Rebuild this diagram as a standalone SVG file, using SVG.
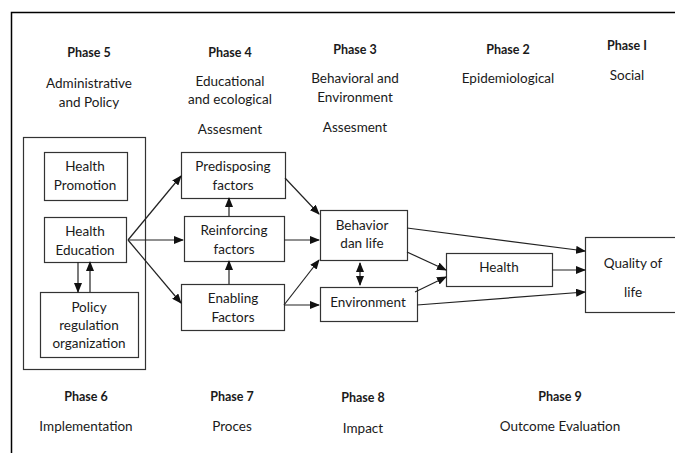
<svg xmlns="http://www.w3.org/2000/svg" width="675" height="453" viewBox="0 0 675 453">
<style>
text{font-family:Lato,"Liberation Sans",sans-serif;font-size:13.5px;fill:#1a1a1a;text-anchor:middle}
.b{font-weight:bold;font-size:12.5px}
.box{fill:#fff;stroke:#333;stroke-width:1.2}
.c{stroke:#222;stroke-width:1.2;fill:none;marker-end:url(#ah)}
</style>
<defs>
<marker id="ah" markerUnits="userSpaceOnUse" markerWidth="10" markerHeight="8" refX="9" refY="4" orient="auto"><path d="M0,0 L10,4 L0,8 Z" fill="#111"/></marker>
<marker id="as" markerUnits="userSpaceOnUse" markerWidth="10" markerHeight="8" refX="1" refY="4" orient="auto"><path d="M10,0 L0,4 L10,8 Z" fill="#111"/></marker>
</defs>
<rect width="675" height="453" fill="#fff"/>
<path d="M11.5,453 V12.5 H675" fill="none" stroke="#000" stroke-width="1.5"/>
<g id="headers">
<text class="b" x="89" y="57">Phase 5</text>
<text x="89" y="88">Administrative</text>
<text x="89" y="107">and Policy</text>
<text class="b" x="230" y="57">Phase 4</text>
<text x="230" y="86">Educational</text>
<text x="230" y="104">and ecological</text>
<text x="230" y="134">Assesment</text>
<text class="b" x="355" y="54">Phase 3</text>
<text x="355" y="83">Behavioral and</text>
<text x="355" y="102">Environment</text>
<text x="355" y="132">Assesment</text>
<text class="b" x="508" y="54">Phase 2</text>
<text x="508" y="83">Epidemiological</text>
<text class="b" x="627" y="50">Phase I</text>
<text x="627" y="80">Social</text>
<text class="b" x="86" y="401">Phase 6</text>
<text x="86" y="431">Implementation</text>
<text class="b" x="232" y="401">Phase 7</text>
<text x="232" y="431">Proces</text>
<text class="b" x="363" y="402">Phase 8</text>
<text x="363" y="433">Impact</text>
<text class="b" x="560" y="401">Phase 9</text>
<text x="560" y="431">Outcome Evaluation</text>
</g>
<g id="group5"><rect class="box" x="23.5" y="137.5" width="122" height="232"/></g>
<g id="healthPromotion"><rect class="box" x="44.5" y="152.5" width="83" height="48"/>
<text x="85" y="171">Health</text><text x="85" y="190">Promotion</text></g>
<g id="healthEducation"><rect class="box" x="44.5" y="217.5" width="82" height="45"/>
<text x="85" y="236">Health</text><text x="85" y="255">Education</text></g>
<g id="policy"><rect class="box" x="40.5" y="292.5" width="98" height="65"/>
<text x="89" y="312">Policy</text><text x="89" y="330">regulation</text><text x="89" y="348">organization</text></g>
<g id="predisposing"><rect class="box" x="181.5" y="152.5" width="104" height="46"/>
<text x="233" y="171">Predisposing</text><text x="233" y="190">factors</text></g>
<g id="reinforcing"><rect class="box" x="184.5" y="216.5" width="100" height="45"/>
<text x="234" y="235">Reinforcing</text><text x="234" y="254">factors</text></g>
<g id="enabling"><rect class="box" x="181.5" y="284.5" width="103" height="46"/>
<text x="233" y="303">Enabling</text><text x="233" y="322">Factors</text></g>
<g id="behavior"><rect class="box" x="320.5" y="210.5" width="87" height="50"/>
<text x="362" y="230">Behavior</text><text x="362" y="248">dan life</text></g>
<g id="environment"><rect class="box" x="320.5" y="287.5" width="97" height="34"/>
<text x="368" y="307">Environment</text></g>
<g id="health"><rect class="box" x="446.5" y="253.5" width="106" height="33"/>
<text x="499" y="272">Health</text></g>
<g id="quality"><rect class="box" x="585.5" y="237.5" width="100" height="75"/>
<text x="633" y="268">Quality of</text><text x="633" y="297">life</text></g>
<g id="connectors">
<line class="c" x1="78" y1="262" x2="78" y2="292"/>
<line class="c" x1="90" y1="292" x2="90" y2="262"/>
<line class="c" x1="128" y1="240" x2="181" y2="176"/>
<line class="c" x1="128" y1="240" x2="183" y2="240"/>
<line class="c" x1="128" y1="240" x2="181" y2="303"/>
<line class="c" x1="229" y1="216" x2="229" y2="198"/>
<line class="c" x1="229" y1="284" x2="229" y2="261"/>
<line class="c" x1="285" y1="178" x2="319" y2="214"/>
<line class="c" x1="284" y1="240" x2="319" y2="240"/>
<line class="c" x1="284" y1="305" x2="319" y2="260"/>
<line class="c" x1="284" y1="305" x2="319" y2="305"/>
<line class="c" x1="360" y1="263" x2="360" y2="285" style="marker-start:url(#as)"/>
<line class="c" x1="407" y1="228" x2="585" y2="251"/>
<line class="c" x1="407" y1="252" x2="446" y2="270"/>
<line class="c" x1="415" y1="292" x2="446" y2="277"/>
<line class="c" x1="552" y1="270" x2="585" y2="270"/>
<line class="c" x1="417" y1="305" x2="585" y2="292"/>
</g>
</svg>
